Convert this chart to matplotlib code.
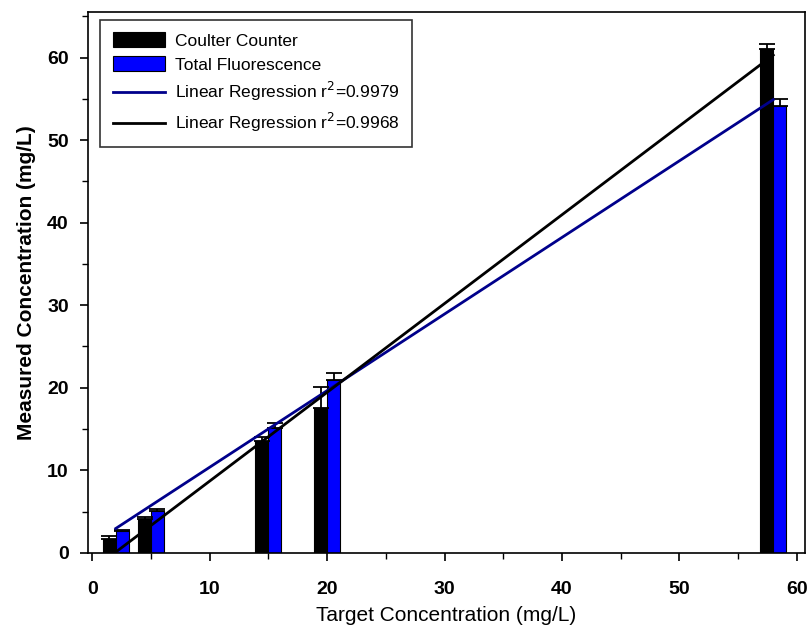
import numpy as np
import matplotlib
matplotlib.use("Agg")
import matplotlib.pyplot as plt
from matplotlib.ticker import MultipleLocator

plt.rcParams['font.family'] = ['Liberation Sans', 'DejaVu Sans']

# target concentrations (mg/L)
target = [2, 5, 15, 20, 58]

# measured values and upper error
coulter = [1.7, 4.1, 13.5, 17.6, 61.0]
coulter_err = [0.4, 0.3, 0.5, 2.5, 0.6]
fluor = [2.6, 5.1, 15.1, 21.0, 54.1]
fluor_err = [0.2, 0.2, 0.6, 0.8, 0.9]

# regression line end points
reg_x = [2, 58]
reg_fluor = [2.96, 54.9]
reg_coulter = [0.1, 60.3]

width = 1.1

fig = plt.figure(figsize=(8.09, 6.37), dpi=100)
ax = fig.add_axes([0.109, 0.132, 0.886, 0.849])

x = np.array(target, dtype=float)
b1 = ax.bar(x - width / 2, coulter, width, color="black", edgecolor="black",
            linewidth=0.8, label="Coulter Counter", zorder=2)
b2 = ax.bar(x + width / 2, fluor, width, color="#0000ff", edgecolor="black",
            linewidth=0.8, label="Total Fluorescence", zorder=2)

ax.errorbar(x - width / 2, coulter, yerr=[np.zeros(len(x)), coulter_err],
            fmt="none", ecolor="black", elinewidth=1.3, capsize=6, capthick=1.3, zorder=3)
ax.errorbar(x + width / 2, fluor, yerr=[np.zeros(len(x)), fluor_err],
            fmt="none", ecolor="black", elinewidth=1.3, capsize=6, capthick=1.3, zorder=3)

l1, = ax.plot(reg_x, reg_fluor, color="#00008b", linewidth=2.0,
              label="Linear Regression r$^2$=0.9979", zorder=4)
l2, = ax.plot(reg_x, reg_coulter, color="black", linewidth=2.0,
              label="Linear Regression r$^2$=0.9968", zorder=4)

ax.set_xlim(-0.35, 60.7)
ax.set_ylim(0, 65.5)
ax.xaxis.set_major_locator(MultipleLocator(10))
ax.xaxis.set_minor_locator(MultipleLocator(5))
ax.yaxis.set_major_locator(MultipleLocator(10))
ax.yaxis.set_minor_locator(MultipleLocator(5))
ax.tick_params(which="major", direction="out", length=6, width=1.2, labelsize=14, pad=14)
ax.tick_params(which="minor", direction="out", length=4, width=1.0)
ax.tick_params(axis="y", pad=8)
for lab in ax.get_xticklabels() + ax.get_yticklabels():
    lab.set_fontweight("bold")
for sp in ax.spines.values():
    sp.set_linewidth(1.2)

ax.set_xlabel("Target Concentration (mg/L)", fontsize=15, labelpad=6)
ax.set_ylabel("Measured Concentration (mg/L)", fontsize=15, fontweight="bold", labelpad=8)

leg = ax.legend([b1, b2, l1, l2], [h.get_label() for h in (b1, b2, l1, l2)],
                loc="upper left", fontsize=12.5, frameon=True, fancybox=False,
                edgecolor="black", handlelength=3.0, handleheight=0.9,
                handletextpad=0.6, borderpad=0.7, labelspacing=0.45,
                borderaxespad=0, bbox_to_anchor=(0.017, 0.985))
leg.get_frame().set_linewidth(1.2)

fig.savefig("out.png", dpi=100)
